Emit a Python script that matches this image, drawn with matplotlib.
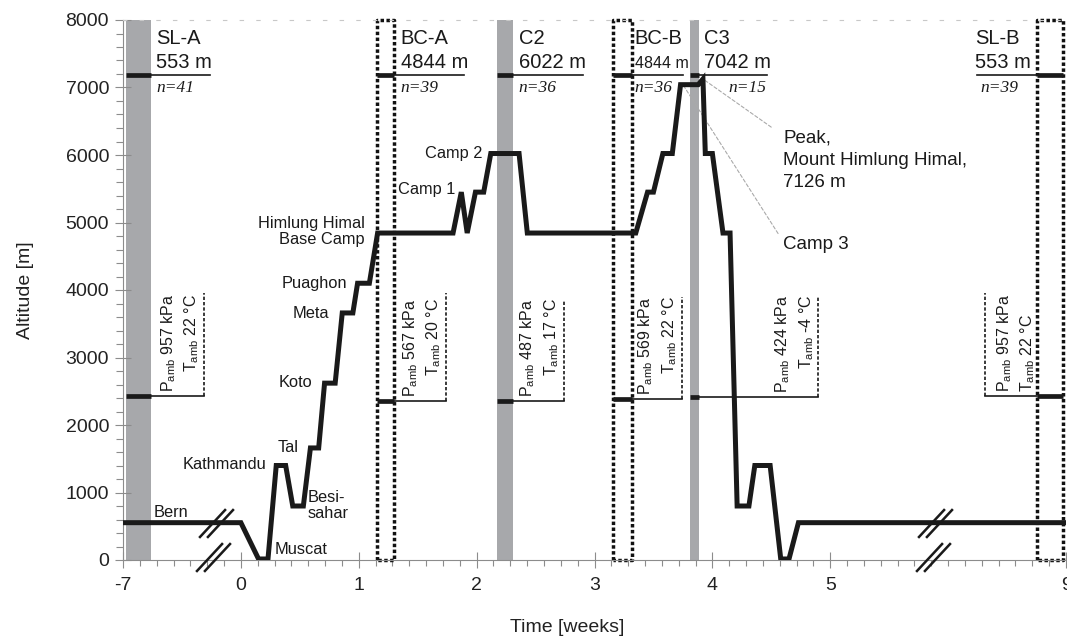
import numpy as np
import matplotlib
matplotlib.use("Agg")
import matplotlib.pyplot as plt
from matplotlib.path import Path

plt.rcParams["font.family"] = ["Liberation Sans", "DejaVu Sans"]
plt.rcParams["mathtext.fontset"] = "custom"
plt.rcParams["mathtext.rm"] = "Liberation Sans"
plt.rcParams["mathtext.it"] = "Liberation Sans:italic"
plt.rcParams["axes.unicode_minus"] = False

# altitude profile of the expedition (time in weeks, altitude in m)
time_weeks = [-7, 0, 0.15, 0.23, 0.30, 0.38, 0.44, 0.53, 0.59, 0.66,
              0.71, 0.80, 0.86, 0.95, 0.99, 1.09, 1.16, 1.80, 1.87, 1.92,
              1.99, 2.06, 2.12, 2.36, 2.43, 3.35, 3.45, 3.50, 3.58, 3.66,
              3.73, 3.88, 3.92, 3.94, 4.00, 4.09, 4.15, 4.21, 4.31, 4.36,
              4.49, 4.58, 4.65, 4.73, 9]
altitude_m = [553, 553, 15, 15, 1400, 1400, 800, 800, 1660, 1660,
              2620, 2620, 3660, 3660, 4100, 4100, 4844, 4844, 5450, 4844,
              5450, 5450, 6022, 6022, 4844, 4844, 5450, 5450, 6022, 6022,
              7042, 7042, 7126, 6022, 6022, 4844, 4844, 800, 800, 1400,
              1400, 15, 15, 553, 553]

# measurement stations
station_names = ["SL-A", "BC-A", "C2", "BC-B", "C3", "SL-B"]
station_alt = ["553 m", "4844 m", "6022 m", "4844 m", "7042 m", "553 m"]
station_n = [41, 39, 36, 36, 15, 39]
window_start = [-6.85, 1.153, 2.17, 3.16, 3.81, 8.51]
window_end = [-5.35, 1.297, 2.31, 3.32, 3.89, 8.95]
window_kind = ["bar", "box", "bar", "box", "bar", "box"]
p_amb_kpa = [957, 567, 487, 569, 424, 957]
t_amb_c = [22, 20, 17, 22, -4, 22]

# locations along the route
place_names = ["Bern", "Muscat", "Kathmandu", "Tal", "Besi-\nsahar", "Koto",
               "Meta", "Puaghon", "Himlung Himal\nBase Camp", "Camp 1",
               "Camp 2"]

x_ticks = [-7, 0, 1, 2, 3, 4, 5, 9]

# --- layout (positions in weeks / metres) ---
head_y = 7190
head_text_x = [-5.04, 1.356, 2.356, 3.34, 3.93, 7.46]
head_line_x = [-1.84, 1.89, 2.90, 3.75, 4.46, 7.49]
n_x = [-5.04, 1.356, 2.356, 3.34, 4.46, 7.54]
n_ha = ["left", "left", "left", "left", "right", "left"]
alt_size = [14.5, 14.5, 14.5, 11.5, 14.5, 14.5]
low_y = [2430, 2360, 2360, 2390, 2410, 2430]
low_dash_x = [-2.19, 1.74, 2.74, 3.74, 4.90, 7.63]
low_dash_top = [3960, 3960, 3830, 3890, 3890, 3960]
place_xy = [(-5.16, 710), (0.288, 160), (0.22, 1420), (0.31, 1670),
            (0.568, 810), (0.61, 2630), (0.746, 3650), (0.90, 4100),
            (1.05, 4870), (1.82, 5490), (2.05, 6020)]
place_ha = ["left", "left", "right", "left", "left", "right", "right",
            "right", "right", "right", "right"]
breaks_xy = [(-1.48, 553), (-1.66, 40), (6.78, 553), (6.75, 50)]


def fwd(x):
    x = np.asarray(x, float)
    return np.where(x < 0, x / 7, np.where(x > 5, 5 + (x - 5) / 2, x))


def inv(p):
    p = np.asarray(p, float)
    return np.where(p < 0, p * 7, np.where(p > 5, 5 + (p - 5) * 2, p))


fig = plt.figure(figsize=(10.67, 6.4), dpi=100)
ax = fig.add_axes([123 / 1067, 80 / 640, 943 / 1067, 540 / 640])
ax.set_xscale("function", functions=(fwd, inv))
ax.set_xlim(-7, 9)
ax.set_ylim(0, 8000)

gray = "#a7a8ab"
axis_gray = "#8c8c8c"

# station windows
for s, e, kind in zip(window_start, window_end, window_kind):
    if kind == "bar":
        ax.axvspan(s, e, color=gray, lw=0, zorder=0)
    else:
        ax.plot([s, s, e, e, s], [0, 8000, 8000, 0, 0], color="#111111",
                lw=2.5, ls=(0, (1, 0.7)), dash_capstyle="butt",
                clip_on=False, zorder=2)

# header markers and labels
for i in range(len(station_names)):
    s, e = window_start[i], window_end[i]
    ax.plot([s, e], [head_y, head_y], color="#1a1a1a", lw=3.4,
            solid_capstyle="butt", zorder=3)
    if i == len(station_names) - 1:
        ax.plot([head_line_x[i], s], [head_y, head_y], color="#1a1a1a", lw=1.2, zorder=3)
    else:
        ax.plot([e, head_line_x[i]], [head_y, head_y], color="#1a1a1a", lw=1.2, zorder=3)
    ax.annotate(station_names[i], (head_text_x[i], head_y), xytext=(0, 22),
                textcoords="offset points", ha="left", va="baseline",
                fontsize=14.5, color="#1a1a1a")
    ax.annotate(station_alt[i], (head_text_x[i], head_y), xytext=(0, 5),
                textcoords="offset points", ha="left", va="baseline",
                fontsize=alt_size[i], color="#1a1a1a")
    ax.annotate("n=%d" % station_n[i], (n_x[i], head_y), xytext=(0, -4),
                textcoords="offset points", ha=n_ha[i], va="top",
                fontsize=12.5, family="Liberation Serif", style="italic",
                color="#1a1a1a")

    # ambient conditions
    y0 = low_y[i]
    ax.plot([s, e], [y0, y0], color="#1a1a1a", lw=3.4,
            solid_capstyle="butt", zorder=3)
    if i == len(station_names) - 1:
        ax.plot([low_dash_x[i], s], [y0, y0], color="#1a1a1a", lw=1.2, zorder=3)
    else:
        ax.plot([e, low_dash_x[i]], [y0, y0], color="#1a1a1a", lw=1.2, zorder=3)
    ax.plot([low_dash_x[i], low_dash_x[i]], [y0, low_dash_top[i]],
            color="#1a1a1a", lw=1.2, ls=(0, (2, 1.2)), zorder=3)
    txt = ("P$_{\\mathrm{amb}}$ %d kPa\nT$_{\\mathrm{amb}}$ %d °C"
           % (p_amb_kpa[i], t_amb_c[i]))
    if i == len(station_names) - 1:
        ha, dx = "left", 7
    else:
        ha, dx = "right", -2
    ax.annotate(txt, (low_dash_x[i], y0), xytext=(dx, 3),
                textcoords="offset points", ha=ha, va="bottom", rotation=90,
                fontsize=11.5, color="#1a1a1a", linespacing=1.35)

# altitude profile
ax.plot(time_weeks, altitude_m, color="#1a1a1a", lw=3.6,
        solid_joinstyle="miter", zorder=4)

# place labels
for name, (px, py), ha in zip(place_names, place_xy, place_ha):
    ax.text(px, py, name, ha=ha, va="center", fontsize=11.8,
            color="#1a1a1a", multialignment=ha, linespacing=1.1, zorder=5)

# peak and camp 3 annotations
ax.annotate("Peak,\nMount Himlung Himal,\n7126 m", xy=(3.92, 7126),
            xytext=(4.6, 6380), ha="left", va="top", fontsize=13.5,
            color="#1a1a1a", linespacing=1.4,
            arrowprops=dict(arrowstyle="-", color="#aaaaaa", lw=0.8,
                            ls=(0, (3, 2)), relpos=(0, 0.9), shrinkA=8,
                            shrinkB=2))
ax.annotate("Camp 3", xy=(3.75, 7042), xytext=(4.6, 4670), ha="left",
            va="center", fontsize=13.5, color="#1a1a1a",
            arrowprops=dict(arrowstyle="-", color="#aaaaaa", lw=0.8,
                            ls=(0, (3, 2)), relpos=(0, 0.7), shrinkA=3,
                            shrinkB=2))

# axis break marks
brk = Path([(-17.5, -14.5), (9.5, 14.5), (-9.5, -14.5), (17.5, 14.5)],
           [Path.MOVETO, Path.LINETO, Path.MOVETO, Path.LINETO])
for bx, by in breaks_xy:
    ax.plot([bx], [by], marker=brk, markersize=25, markeredgewidth=1.8,
            markeredgecolor="#1a1a1a", markerfacecolor="none", ls="none",
            clip_on=False, zorder=6)

# axes styling
minor_x = np.concatenate([np.arange(-7, 0, 1.0), np.arange(0, 5, 1 / 7),
                          5 + np.arange(0, 4, 2 / 7)])
ax.set_xticks(x_ticks)
ax.set_xticklabels([str(t) for t in x_ticks])
ax.set_xticks(minor_x, minor=True)
ax.set_yticks(np.arange(0, 8001, 1000))
ax.set_yticks(np.arange(0, 8001, 200), minor=True)
ax.tick_params(axis="x", which="major", direction="inout", length=12,
               width=0.8, color=axis_gray, labelsize=14, pad=6,
               labelcolor="#222222")
ax.tick_params(axis="x", which="minor", direction="out", length=4,
               width=0.8, color=axis_gray)
ax.tick_params(axis="y", which="major", direction="inout", length=12,
               width=0.8, color=axis_gray, labelsize=14, pad=4,
               labelcolor="#222222")
ax.tick_params(axis="y", which="minor", direction="out", length=5,
               width=0.8, color=axis_gray)
for side in ("left", "bottom"):
    ax.spines[side].set_color(axis_gray)
    ax.spines[side].set_linewidth(0.8)
ax.spines["right"].set_visible(False)
ax.spines["top"].set_color("#c8c8c8")
ax.spines["top"].set_linestyle((0, (3, 12)))
ax.spines["top"].set_linewidth(0.8)

fig.text(567 / 1067, 1 - 627 / 640, "Time [weeks]", ha="center",
         va="center", fontsize=14, color="#222222")
fig.text(25 / 1067, 1 - 290 / 640, "Altitude [m]", ha="center",
         va="center", rotation=90, fontsize=14, color="#222222")

fig.savefig("out.png", dpi=100)
